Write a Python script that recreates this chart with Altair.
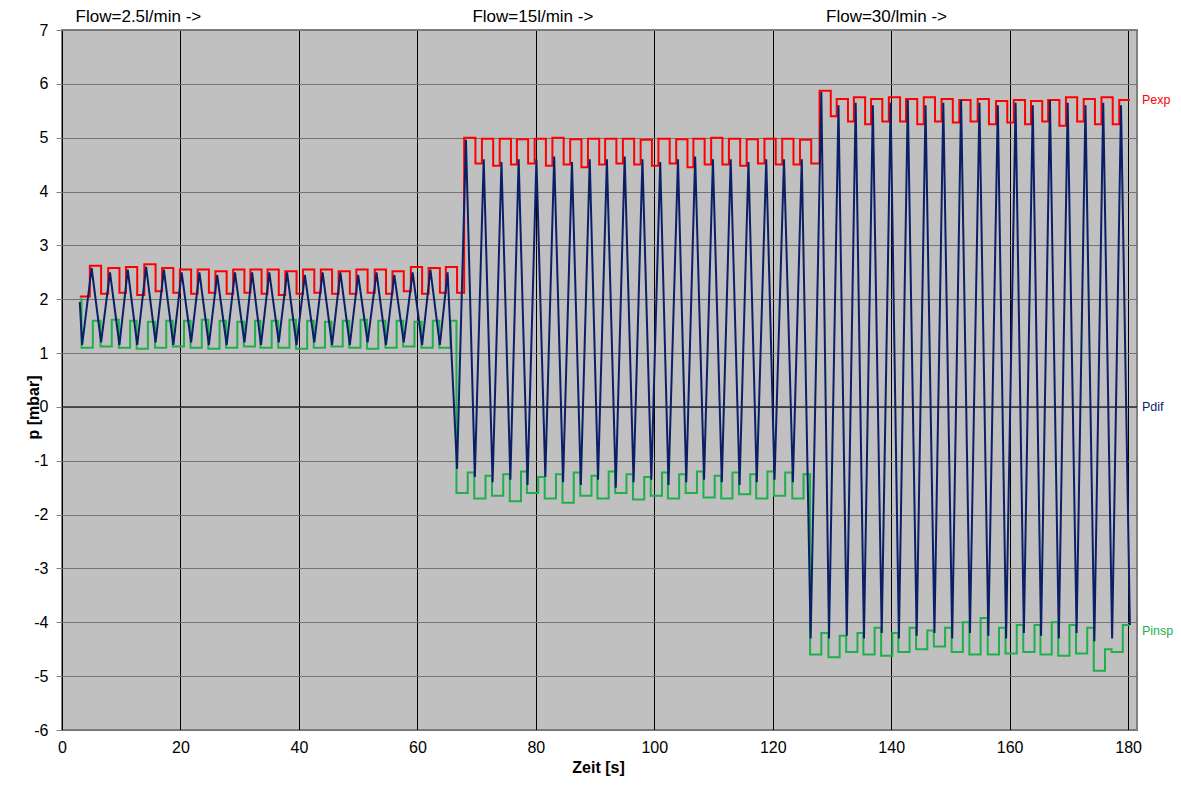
import altair as alt
import pandas as pd

# ---------------- data ----------------
# Pdif: peak times / values and trough times / values per flow segment
pk_t1 = [5.0, 8.1, 11.1, 14.2, 17.2, 20.2, 23.2, 26.2, 29.2, 32.1, 35.0, 38.0, 41.0, 44.0, 47.0, 50.0, 53.1, 56.1, 59.2, 62.2, 65.1]
pk_v1 = [2.58, 2.5, 2.55, 2.6, 2.55, 2.5, 2.5, 2.45, 2.5, 2.5, 2.5, 2.5, 2.45, 2.5, 2.5, 2.45, 2.5, 2.45, 2.5, 2.55, 2.5]
tr_t1 = [3.4, 6.6, 9.7, 12.7, 15.8, 18.8, 21.8, 24.8, 27.8, 30.8, 33.6, 36.6, 39.6, 42.6, 45.6, 48.6, 51.6, 54.7, 57.7, 60.8, 63.8]
tr_v1 = [1.15, 1.2, 1.15, 1.15, 1.2, 1.15, 1.2, 1.15, 1.15, 1.2, 1.15, 1.2, 1.15, 1.2, 1.15, 1.15, 1.2, 1.15, 1.2, 1.15, 1.15]

pk_t2 = [68.2, 71.2, 74.2, 77.1, 80.1, 83.1, 86.1, 89.1, 92.0, 95.0, 98.0, 101.0, 104.0, 106.9, 109.9, 112.9, 115.9, 118.9, 121.9, 124.9]
pk_v2 = [4.96, 4.6, 4.55, 4.6, 4.6, 4.65, 4.55, 4.6, 4.6, 4.65, 4.6, 4.55, 4.6, 4.65, 4.6, 4.6, 4.55, 4.6, 4.6, 4.6]
tr_t2 = [66.7, 69.7, 72.7, 75.7, 78.6, 81.6, 84.6, 87.6, 90.5, 93.5, 96.5, 99.5, 102.4, 105.4, 108.4, 111.4, 114.4, 117.3, 120.3, 123.4]
tr_v2 = [-1.15, -1.3, -1.4, -1.35, -1.45, -1.3, -1.4, -1.45, -1.35, -1.5, -1.4, -1.35, -1.45, -1.4, -1.35, -1.4, -1.45, -1.4, -1.35, -1.4]

pk_t3 = [128.2, 131.1, 134.0, 136.9, 139.9, 142.8, 145.8, 148.8, 151.8, 154.9, 158.0, 161.0, 163.9, 166.8, 169.8, 172.8, 175.8, 178.8]
pk_v3 = [5.85, 5.6, 5.65, 5.6, 5.65, 5.7, 5.6, 5.65, 5.7, 5.65, 5.6, 5.65, 5.6, 5.7, 5.65, 5.6, 5.65, 5.6]
tr_t3 = [126.4, 129.5, 132.5, 135.4, 138.4, 141.3, 144.3, 147.3, 150.3, 153.3, 156.4, 159.4, 162.4, 165.3, 168.3, 171.3, 174.3, 177.3, 180.3]
tr_v3 = [-4.3, -4.3, -4.25, -4.3, -4.2, -4.3, -4.25, -4.2, -4.3, -4.2, -4.25, -4.3, -4.2, -4.25, -4.3, -4.2, -4.35, -4.3, -4.05]

pdif_start = (3.0, 1.95)

# Pexp: held level per breath (high after each peak, low before the next)
pexp_hi = [2.62, 2.58, 2.6, 2.65, 2.58, 2.55, 2.55, 2.52, 2.55, 2.55, 2.55, 2.52, 2.55, 2.55, 2.52, 2.55, 2.55, 2.52, 2.6, 2.58, 2.6,
           5.0, 4.98, 4.98, 4.97, 4.98, 5.0, 4.97, 4.98, 4.98, 4.98, 4.96, 4.98, 4.97, 4.98, 5.0, 4.98, 4.97, 4.98, 4.98, 4.96,
           5.87, 5.72, 5.75, 5.72, 5.75, 5.72, 5.75, 5.72, 5.7, 5.72, 5.68, 5.7, 5.68, 5.7, 5.75, 5.72, 5.75, 5.7]
pexp_lo = [2.1, 2.12, 2.08, 2.15, 2.12, 2.1, 2.12, 2.1, 2.12, 2.1, 2.08, 2.1, 2.12, 2.1, 2.1, 2.12, 2.1, 2.15, 2.1, 2.12, 2.12,
           4.52, 4.48, 4.5, 4.52, 4.48, 4.5, 4.45, 4.5, 4.52, 4.5, 4.48, 4.52, 4.45, 4.5, 4.5, 4.48, 4.52, 4.5, 4.5, 4.52,
           5.4, 5.3, 5.25, 5.3, 5.3, 5.25, 5.3, 5.28, 5.3, 5.25, 5.28, 5.25, 5.3, 5.22, 5.3, 5.25, 5.25, 5.25]
pexp_start = (3.0, 2.05)

# Pinsp: held level per breath (low after each trough, high before the next)
pinsp_lo = [1.1, 1.12, 1.1, 1.08, 1.1, 1.12, 1.1, 1.08, 1.1, 1.12, 1.1, 1.1, 1.08, 1.1, 1.12, 1.1, 1.08, 1.1, 1.12, 1.1, 1.1,
            -1.6, -1.7, -1.65, -1.75, -1.6, -1.7, -1.78, -1.65, -1.7, -1.6, -1.72, -1.65, -1.7, -1.6, -1.68, -1.7, -1.62, -1.7, -1.65, -1.7,
            -4.6, -4.65, -4.55, -4.6, -4.62, -4.55, -4.5, -4.45, -4.55, -4.6, -4.6, -4.58, -4.55, -4.6, -4.62, -4.58, -4.9, -4.55]
pinsp_hi = [1.6, 1.62, 1.6, 1.58, 1.6, 1.6, 1.62, 1.6, 1.58, 1.6, 1.6, 1.62, 1.6, 1.58, 1.6, 1.62, 1.6, 1.6, 1.58, 1.6, 1.6,
            -1.22, -1.28, -1.25, -1.2, -1.3, -1.25, -1.22, -1.28, -1.2, -1.25, -1.3, -1.22, -1.25, -1.2, -1.28, -1.22, -1.25, -1.2, -1.22, -1.25,
            -4.2, -4.25, -4.2, -4.1, -4.2, -4.1, -4.15, -4.1, -4.0, -3.92, -4.1, -4.05, -4.05, -4.0, -4.05, -4.1, -4.5, -4.05]
pinsp_start = (3.0, 2.0)
t_end = 180.3

flow_labels = ["Flow=2.5l/min ->", "Flow=15l/min ->", "Flow=30/lmin ->"]
flow_label_t = [2.3, 69.3, 129.0]
series_names = ["Pexp", "Pdif", "Pinsp"]
series_label_v = [5.7, 0.0, -4.16]
series_colors = ["#ff0000", "#0a1f66", "#1db04c"]

x_ticks = list(range(0, 181, 20))
y_ticks = list(range(-6, 8))

# ---------------- tables ----------------
pk_t = pk_t1 + pk_t2 + pk_t3
pk_v = pk_v1 + pk_v2 + pk_v3
tr_t = tr_t1 + tr_t2 + tr_t3
tr_v = tr_v1 + tr_v2 + tr_v3

pdif_pts = [pdif_start] + list(zip(pk_t, pk_v)) + list(zip(tr_t, tr_v))
pdif_pts.sort(key=lambda p: p[0])
pdif_df = pd.DataFrame(pdif_pts, columns=["t", "v"])

# Pexp steps: rises just before each Pdif peak, drops back later in the breath
pexp_rows = [pexp_start]
for p, hi, lo in zip(pk_t, pexp_hi, pexp_lo):
    pexp_rows.append((p - 0.3, hi))
    if p + 1.6 < t_end:
        pexp_rows.append((p + 1.6, lo))
pexp_rows.append((t_end, pexp_rows[-1][1]))
pexp_df = pd.DataFrame(pexp_rows, columns=["t", "v"])

# Pinsp steps: drops at each Pdif trough, rises back before the next
ptr = tr_t[:-1]
pinsp_rows = [pinsp_start]
for tr, lo, hi in zip(ptr, pinsp_lo, pinsp_hi):
    pinsp_rows.append((tr - 0.1, lo))
    pinsp_rows.append((tr + 1.8, hi))
pinsp_rows.append((t_end, pinsp_rows[-1][1]))
pinsp_df = pd.DataFrame(pinsp_rows, columns=["t", "v"])

flow_df = pd.DataFrame({"t": flow_label_t, "label": flow_labels})
name_df = pd.DataFrame({"v": series_label_v, "label": series_names, "c": series_colors})

FONT = "Liberation Sans"
xscale = alt.Scale(domain=[0, 181.5], nice=False, zero=False)
yscale = alt.Scale(domain=[-6, 7], nice=False, zero=False)

x_axis = alt.Axis(values=x_ticks, title="Zeit [s]", grid=True, gridColor="#000000", gridWidth=1,
                  ticks=False, domain=False, labelFontSize=16, labelPadding=9, labelFont=FONT,
                  labelColor="#000000", labelFlush=False,
                  titleFont=FONT, titleFontSize=16, titleFontWeight="bold", titleColor="#000000",
                  titleX=536, titleY=42, titleBaseline="alphabetic", titleAnchor="middle")
y_axis = alt.Axis(values=y_ticks, title="p [mbar]", grid=True, gridColor="#747474", gridWidth=1,
                  ticks=True, tickSize=6, tickColor="#808080", domain=False,
                  labelFontSize=16, labelPadding=8, labelFont=FONT, labelColor="#000000",
                  labelExpr="'' + datum.value",
                  titleFont=FONT, titleFontSize=16, titleFontWeight="bold", titleColor="#000000",
                  titleX=-29, titleY=377, titleBaseline="middle", titleAngle=270, titleAlign="center")

zero = alt.Chart(pd.DataFrame({"v": [0]})).mark_rule(color="#000000", strokeWidth=1).encode(
    y=alt.Y("v:Q", scale=yscale, axis=y_axis))

pexp = alt.Chart(pexp_df).mark_line(color=series_colors[0], strokeWidth=2, interpolate="step-after").encode(
    x=alt.X("t:Q", scale=xscale, axis=x_axis), y=alt.Y("v:Q", scale=yscale))
pinsp = alt.Chart(pinsp_df).mark_line(color=series_colors[2], strokeWidth=2, interpolate="step-after").encode(
    x=alt.X("t:Q", scale=xscale), y=alt.Y("v:Q", scale=yscale))
pdif = alt.Chart(pdif_df).mark_line(color=series_colors[1], strokeWidth=2).encode(
    x=alt.X("t:Q", scale=xscale), y=alt.Y("v:Q", scale=yscale))

flow_text = alt.Chart(flow_df).mark_text(align="left", baseline="middle", font=FONT, fontSize=17,
                                         color="#000000").encode(
    x=alt.X("t:Q", scale=xscale), y=alt.value(-13), text="label:N")

name_text = alt.Chart(name_df).mark_text(align="left", baseline="middle", font=FONT, fontSize=12.5).encode(
    x=alt.value(1080), y=alt.Y("v:Q", scale=yscale), text="label:N",
    color=alt.Color("c:N", scale=None))

chart = alt.layer(zero, pexp, pinsp, pdif, flow_text, name_text).properties(
    width=1075, height=700,
    autosize=alt.AutoSizeParams(type="none"),
    padding={"left": 54, "top": 22, "right": 36, "bottom": 48},
    background="#ffffff",
).configure_view(fill="#c0c0c0", stroke="#808080", strokeWidth=2)

chart.save("out.html", embed_options={"renderer": "svg", "actions": False})
